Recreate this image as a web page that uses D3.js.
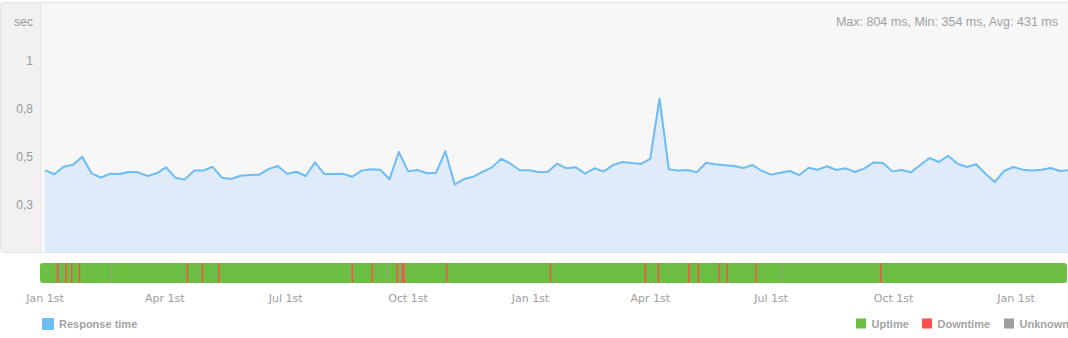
<!DOCTYPE html>
<html>
<head>
<meta charset="utf-8">
<script src="https://cdn.jsdelivr.net/npm/d3@7/dist/d3.min.js"></script>
<style>
  body { margin: 0; background: #fff; }
  svg text { font-family: "Liberation Sans", Arial, sans-serif; }
</style>
</head>
<body>
<svg id="chart" width="1068" height="338"></svg>
<script>
// weekly response times (ms), first point on Jan 1st
const startDate = new Date(2013, 0, 1);
const responseMs = [
  430, 408, 447, 458, 500, 413, 390, 411, 409, 420, 418, 399, 413, 444, 390, 380,
  427, 427, 447, 390, 383, 400, 404, 406, 435, 451, 411, 421, 399, 470, 409, 409,
  411, 395, 427, 434, 432, 382, 524, 423, 430, 413, 416, 528, 354, 383, 395, 421,
  444, 489, 463, 429, 429, 420, 421, 463, 439, 444, 411, 439, 423, 456, 472, 467,
  462, 489, 804, 434, 427, 430, 418, 468, 460, 455, 451, 441, 456, 425, 406, 416,
  425, 403, 442, 432, 450, 430, 439, 420, 439, 470, 467, 423, 430, 418, 456, 493,
  472, 505, 463, 446, 460, 411, 367, 425, 446, 432, 427, 432, 441, 425, 430
];
const maxMs = 804, minMs = 354, avgMs = 431;

// uptime bar events, in days after startDate
const downtimeDays = [9.5, 15.8, 20, 25.8, 107, 118.3, 130.6, 231, 246, 264.9, 268.6, 270,
  302, 380, 451.4, 461.1, 484.2, 491.2, 507, 512.6, 534.6, 628.3];
const unknownDays = [11.3, 50.2, 257.4, 267.7, 554];

const yTicks = [0.25, 0.5, 0.75, 1];
const legendLeft = ["Response time"];
const legendRight = ["Uptime", "Downtime", "Unknown"];

const colors = {
  line: "#6dbcf6", area: "#dfebf8", up: "#6cbf43", down: "#ff4e4e", unknown: "#9e9e9e"
};

const svg = d3.select("#chart");
const W = 1068;

const points = responseMs.map((v, i) => ({ date: d3.timeDay.offset(startDate, 7 * i), value: v / 1000 }));

const x = d3.scaleTime()
  .domain([new Date(2013, 0, 1), new Date(2015, 0, 1)])
  .range([45, 1016]);
const y = d3.scaleLinear().domain([0, 1]).range([252.3, 61]);

const comma = d3.formatLocale({ decimal: ",", thousands: ".", grouping: [3], currency: ["", ""] });
const fmt = comma.format(".1~f");

// panel
const defs = svg.append("defs");
defs.append("clipPath").attr("id", "panel-clip")
  .append("rect").attr("x", 0.5).attr("y", 2.5).attr("width", 1080).attr("height", 250).attr("rx", 4);
defs.append("clipPath").attr("id", "plot-clip")
  .append("rect").attr("x", 41).attr("y", 3).attr("width", W - 41).attr("height", 249);

const panel = svg.append("g").attr("clip-path", "url(#panel-clip)");
panel.append("rect").attr("x", 0).attr("y", 0).attr("width", 1080).attr("height", 260).attr("fill", "#f7f7f7");
panel.append("rect").attr("x", 0).attr("y", 0).attr("width", 40).attr("height", 260).attr("fill", "#f1f1f1");
panel.append("line").attr("x1", 40.5).attr("x2", 40.5).attr("y1", 0).attr("y2", 260).attr("stroke", "#e6e6e6");

const plot = svg.append("g").attr("clip-path", "url(#plot-clip)");
plot.append("path").datum(points)
  .attr("fill", colors.area)
  .attr("d", d3.area().x(d => x(d.date)).y0(y(0)).y1(d => y(d.value)));
plot.append("path").datum(points)
  .attr("fill", "none")
  .attr("stroke", colors.line)
  .attr("stroke-width", 2)
  .attr("stroke-linejoin", "round")
  .attr("d", d3.line().x(d => x(d.date)).y(d => y(d.value)));

svg.append("rect").attr("x", 0.5).attr("y", 2.5).attr("width", 1080).attr("height", 250).attr("rx", 4)
  .attr("fill", "none").attr("stroke", "#e4e4e4");

// y axis labels
svg.append("g").selectAll("text").data(yTicks).join("text")
  .attr("x", 33).attr("y", d => y(d)).attr("dy", "0.35em")
  .attr("text-anchor", "end").attr("font-size", 12).attr("fill", "#9a9a9a")
  .text(d => fmt(d));
svg.append("text").attr("x", 33).attr("y", 22).attr("dy", "0.35em")
  .attr("text-anchor", "end").attr("font-size", 12).attr("fill", "#9a9a9a").text("sec");

svg.append("text").attr("x", 1058).attr("y", 22).attr("dy", "0.35em")
  .attr("text-anchor", "end").attr("font-size", 12.5).attr("fill", "#a0a0a0")
  .text(`Max: ${maxMs} ms, Min: ${minMs} ms, Avg: ${avgMs} ms`);

// uptime bar
defs.append("clipPath").attr("id", "bar-clip")
  .append("rect").attr("x", 40).attr("y", 263).attr("width", 1027).attr("height", 20).attr("rx", 3);
const bar = svg.append("g").attr("clip-path", "url(#bar-clip)");
bar.append("rect").attr("x", 40).attr("y", 263).attr("width", 1027).attr("height", 20).attr("fill", colors.up);
bar.selectAll("rect.unknown").data(unknownDays).join("rect").attr("class", "unknown")
  .attr("x", d => x(d3.timeHour.offset(startDate, d * 24)) - 0.5).attr("y", 263)
  .attr("width", 1).attr("height", 20).attr("fill", colors.unknown).attr("opacity", 0.8);
bar.selectAll("rect.down").data(downtimeDays).join("rect").attr("class", "down")
  .attr("x", d => x(d3.timeHour.offset(startDate, d * 24)) - 0.75).attr("y", 263)
  .attr("width", 1.5).attr("height", 20).attr("fill", colors.down);

// x axis labels, every 3 months
const xTicks = x.ticks(d3.timeMonth.every(3));
svg.append("g").selectAll("text").data(xTicks).join("text")
  .attr("x", d => x(d)).attr("y", 298).attr("dy", "0.35em")
  .attr("text-anchor", "middle").attr("font-size", 11).attr("fill", "#9e9e9e")
  .style("font-family", "'DejaVu Sans', Verdana, sans-serif")
  .text(d => d3.timeFormat("%b")(d) + " 1st");

// legends
const lg = svg.append("g");
lg.append("rect").attr("x", 42).attr("y", 318).attr("width", 12).attr("height", 12).attr("fill", colors.line);
lg.append("text").attr("x", 59).attr("y", 324).attr("dy", "0.35em")
  .attr("font-size", 11).attr("font-weight", "bold").attr("fill", "#a3a3a3").text(legendLeft[0]);

const rightX = [856, 922, 1004];
const rightColors = [colors.up, colors.down, colors.unknown];
legendRight.forEach((name, i) => {
  lg.append("rect").attr("x", rightX[i]).attr("y", 318.5).attr("width", 10).attr("height", 10).attr("fill", rightColors[i]);
  lg.append("text").attr("x", rightX[i] + 15.5).attr("y", 324).attr("dy", "0.35em")
    .attr("font-size", 11).attr("font-weight", "bold").attr("fill", "#a3a3a3").text(name);
});
</script>
</body>
</html>
